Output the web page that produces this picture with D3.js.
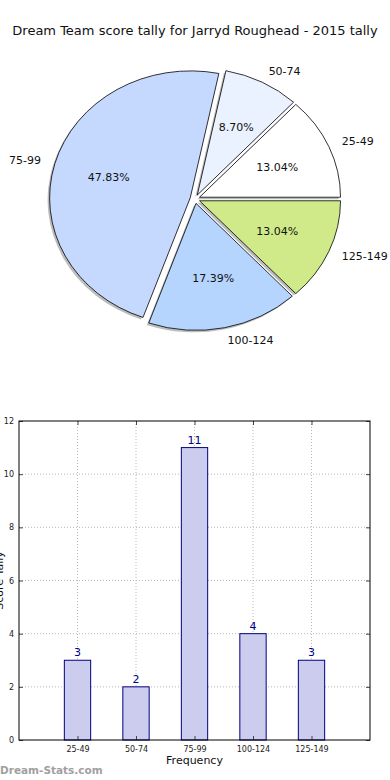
<!DOCTYPE html>
<html>
<head>
<meta charset="utf-8">
<script src="https://cdn.jsdelivr.net/npm/d3@7"></script>
<style>
  html, body { margin: 0; padding: 0; background: #fff; }
  svg { display: block; font-family: "DejaVu Sans", sans-serif; }
</style>
</head>
<body>
<svg id="chart" width="390" height="780"></svg>
<script>
// ---- data ----
const categories = ["25-49", "50-74", "75-99", "100-124", "125-149"];
const counts = [3, 2, 11, 4, 3];
const yTicks = [0, 2, 4, 6, 8, 10, 12];
const titleText = "Dream Team score tally for Jarryd Roughead - 2015 tally";
const pieColors = ["#ffffff", "#eaf1ff", "#c5d9fe", "#b5d5ff", "#d0ea8a"];

const svg = d3.select("#chart");

// ---- title ----
svg.append("text")
  .attr("x", 195).attr("y", 35)
  .attr("text-anchor", "middle")
  .attr("font-size", 13)
  .attr("fill", "#111")
  .text(titleText);

// ---- pie (elliptical, matplotlib style: starts east, counter-clockwise) ----
const cx = 195, cy = 199, rx = 141, ry = 127;
const explode = 0.035;
const total = d3.sum(counts);
const pieGen = d3.pie().sort(null).startAngle(0).endAngle(2 * Math.PI);
const slices = pieGen(counts).map((d, i) => {
  const t1 = d.startAngle, t2 = d.endAngle; // ccw from east (matplotlib convention)
  const mid = (t1 + t2) / 2;
  return {
    i, value: d.value,
    a0: Math.PI / 2 - t2, a1: Math.PI / 2 - t1,
    mid,
    ox: cx + explode * rx * Math.cos(mid),
    oy: cy - explode * ry * Math.sin(mid)
  };
});
const arcGen = d3.arc().innerRadius(0).outerRadius(1);

const pieG = svg.append("g");
// shadows
pieG.selectAll("path.shadow").data(slices).join("path")
  .attr("class", "shadow")
  .attr("transform", d => `translate(${d.ox - 2},${d.oy + 2}) scale(${rx},${ry})`)
  .attr("d", d => arcGen({startAngle: d.a0, endAngle: d.a1}))
  .attr("fill", "#7a7a7a")
  .attr("fill-opacity", 0.5);
// slices
pieG.selectAll("path.slice").data(slices).join("path")
  .attr("class", "slice")
  .attr("transform", d => `translate(${d.ox},${d.oy}) scale(${rx},${ry})`)
  .attr("d", d => arcGen({startAngle: d.a0, endAngle: d.a1}))
  .attr("fill", d => pieColors[d.i])
  .attr("stroke", "#000")
  .attr("stroke-width", 0.8)
  .attr("vector-effect", "non-scaling-stroke");

// outer labels
pieG.selectAll("text.lab").data(slices).join("text")
  .attr("class", "lab")
  .attr("x", d => d.ox + 1.1 * rx * Math.cos(d.mid))
  .attr("y", d => d.oy - 1.1 * ry * Math.sin(d.mid))
  .attr("dy", "0.35em")
  .attr("text-anchor", d => Math.cos(d.mid) >= 0 ? "start" : "end")
  .attr("font-size", 11)
  .attr("fill", "#111")
  .text(d => categories[d.i]);

// percentage labels
pieG.selectAll("text.pct").data(slices).join("text")
  .attr("class", "pct")
  .attr("x", d => d.ox + 0.6 * rx * Math.cos(d.mid))
  .attr("y", d => d.oy - 0.6 * ry * Math.sin(d.mid))
  .attr("dy", "0.35em")
  .attr("text-anchor", "middle")
  .attr("font-size", 11)
  .attr("fill", "#111")
  .text(d => (d.value / total * 100).toFixed(2) + "%");

// ---- bar chart ----
const L = 19, R = 370, T = 421, B = 740;
const x = d3.scaleLinear().domain([-1, 5]).range([L, R]);
const y = d3.scaleLinear().domain([0, 12]).range([B, T]);
const barW = 0.45;
const idx = categories.map((c, i) => i);

const bar = svg.append("g");

// grid
bar.selectAll("line.vgrid").data(idx).join("line")
  .attr("x1", i => x(i)).attr("x2", i => x(i))
  .attr("y1", T).attr("y2", B)
  .attr("stroke", "#b8b8b8").attr("stroke-width", 1)
  .attr("stroke-dasharray", "1,2");
bar.selectAll("line.hgrid").data(yTicks.slice(1, -1)).join("line")
  .attr("x1", L).attr("x2", R)
  .attr("y1", v => y(v)).attr("y2", v => y(v))
  .attr("stroke", "#b8b8b8").attr("stroke-width", 1)
  .attr("stroke-dasharray", "1,2");

// bars
bar.selectAll("rect.bar").data(idx).join("rect")
  .attr("x", i => x(i - barW / 2))
  .attr("y", i => y(counts[i]))
  .attr("width", i => x(i + barW / 2) - x(i - barW / 2))
  .attr("height", i => y(0) - y(counts[i]))
  .attr("fill", "#ccccee")
  .attr("stroke", "#000080")
  .attr("stroke-width", 1);

// value labels
bar.selectAll("text.val").data(idx).join("text")
  .attr("x", i => x(i))
  .attr("y", i => y(counts[i]) - 4)
  .attr("text-anchor", "middle")
  .attr("font-size", 11)
  .attr("fill", "#00008b")
  .text(i => counts[i]);

// axes
const yAxis = d3.axisLeft(y).tickValues(yTicks).tickSize(-4).tickPadding(5);
const gy = bar.append("g").attr("transform", `translate(${L},0)`).call(yAxis);
gy.select(".domain").remove();
gy.selectAll("text").attr("font-size", 8).attr("fill", "#222").attr("font-family", "DejaVu Sans");
gy.selectAll("line").attr("stroke", "#444");

const yAxisR = d3.axisRight(y).tickValues(yTicks).tickSize(-4).tickFormat("");
const gyr = bar.append("g").attr("transform", `translate(${R},0)`).call(yAxisR);
gyr.select(".domain").remove();
gyr.selectAll("line").attr("stroke", "#444");

const xAxis = d3.axisBottom(x).tickValues(idx).tickSize(-4).tickPadding(6)
  .tickFormat(i => categories[i]);
const gx = bar.append("g").attr("transform", `translate(0,${B})`).call(xAxis);
gx.select(".domain").remove();
gx.selectAll("text").attr("font-size", 8).attr("fill", "#222").attr("font-family", "DejaVu Sans");
gx.selectAll("line").attr("stroke", "#444");

const xAxisT = d3.axisTop(x).tickValues(idx).tickSize(-4).tickFormat("");
const gxt = bar.append("g").attr("transform", `translate(0,${T})`).call(xAxisT);
gxt.select(".domain").remove();
gxt.selectAll("line").attr("stroke", "#444");

// frame
bar.append("rect")
  .attr("x", L).attr("y", T).attr("width", R - L).attr("height", B - T)
  .attr("fill", "none").attr("stroke", "#000").attr("stroke-width", 1);

// axis labels
bar.append("text")
  .attr("x", (L + R) / 2).attr("y", 764)
  .attr("text-anchor", "middle")
  .attr("font-size", 11).attr("fill", "#111")
  .text("Frequency");

bar.append("text")
  .attr("transform", `translate(3,${(T + B) / 2}) rotate(-90)`)
  .attr("text-anchor", "middle")
  .attr("font-size", 11).attr("fill", "#111")
  .text("Score Tally");

// watermark
svg.append("text")
  .attr("x", 0).attr("y", 774)
  .attr("font-size", 10.5).attr("font-weight", "bold")
  .attr("fill", "#a0a0a0")
  .text("Dream-Stats.com");
</script>
</body>
</html>
